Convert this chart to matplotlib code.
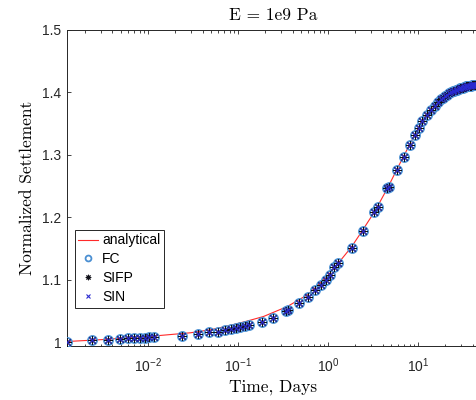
import matplotlib
matplotlib.use("Agg")
import matplotlib.pyplot as plt
from matplotlib.ticker import LogLocator, FixedLocator, NullFormatter

# analytical solution
ana_t = [0.00124, 0.003, 0.0119, 0.0294, 0.05, 0.082, 0.12, 0.19, 0.35, 0.59,
         0.98, 1.3, 1.8, 2.4, 3.3, 4.6, 5.8, 7.0, 8.0, 9.2,
         10.8, 12.5, 15, 18, 22, 27, 33, 40, 48]
ana_s = [1.001, 1.004, 1.010, 1.015, 1.020, 1.027, 1.033, 1.041, 1.057, 1.076,
         1.106, 1.127, 1.152, 1.179, 1.210, 1.248, 1.277, 1.300, 1.316, 1.333,
         1.352, 1.366, 1.380, 1.391, 1.399, 1.405, 1.409, 1.411, 1.412]

# numerical results (FC, SIFP and SIN sit on top of each other)
num_t = [0.00124, 0.00239, 0.0036, 0.0048, 0.0060, 0.0070, 0.0081, 0.0092, 0.0103, 0.0115,
         0.0238, 0.0355, 0.047, 0.0593, 0.0704, 0.082, 0.0933, 0.104, 0.1175, 0.131,
         0.182, 0.245, 0.338, 0.352, 0.474, 0.588, 0.71, 0.827, 0.94, 1.04,
         1.16, 1.29, 1.82, 2.41, 3.25, 3.6, 4.5, 4.74, 5.82, 6.92,
         8.06, 9.24, 10.2, 10.9, 12.5, 13.7, 15.2, 16.5, 18.0,
         19, 20, 21, 22, 23, 24, 25, 26, 27, 28, 29, 30, 31, 32, 33,
         34, 35, 36, 37, 38, 39, 40, 41, 42, 43, 44, 45, 46, 47, 48]
num_s = [1.001, 1.003, 1.004, 1.005, 1.006, 1.006, 1.007, 1.007, 1.008, 1.008,
         1.010, 1.013, 1.0155, 1.017, 1.019, 1.021, 1.022, 1.024, 1.026, 1.027,
         1.032, 1.039, 1.050, 1.052, 1.063, 1.073, 1.083, 1.092, 1.100, 1.108,
         1.120, 1.126, 1.151, 1.178, 1.208, 1.217, 1.246, 1.249, 1.276, 1.297,
         1.315, 1.331, 1.343, 1.353, 1.364, 1.371, 1.378, 1.384, 1.389,
         1.391, 1.394, 1.396, 1.398, 1.400, 1.401, 1.402, 1.403, 1.404, 1.405, 1.406, 1.407, 1.407, 1.408, 1.408,
         1.409, 1.409, 1.410, 1.410, 1.410, 1.411, 1.411, 1.411, 1.411, 1.412, 1.412, 1.412, 1.412, 1.412, 1.412]
fc_s = num_s
sifp_s = num_s
sin_s = num_s

y_ticks = [1, 1.1, 1.2, 1.3, 1.4, 1.5]
y_labels = ["1", "1.1", "1.2", "1.3", "1.4", "1.5"]

INK = "#262626"
plt.rcParams.update({
    "font.family": "Liberation Sans",
    "mathtext.fontset": "custom",
    "mathtext.rm": "Liberation Sans",
    "mathtext.it": "Liberation Sans:italic",
    "mathtext.bf": "Liberation Sans:bold",
    "axes.edgecolor": INK,
    "xtick.color": INK,
    "ytick.color": INK,
})

fig = plt.figure(figsize=(4.76, 4.0), dpi=100)
ax = fig.add_axes([0.1401, 0.136, 0.8677, 0.790])

ax.plot(ana_t, ana_s, color="#ff2a2a", lw=0.8, label="analytical", zorder=2)
ax.plot(num_t, fc_s, ls="none", marker="o", ms=6.5, mfc="none", mec="#4a8fd2",
        mew=1.3, label="FC", zorder=3)
ax.plot(num_t, sifp_s, ls="none", marker=(8, 2, 0), ms=6, color="#101018",
        mew=0.7, label="SIFP", zorder=4)
ax.plot(num_t, sin_s, ls="none", marker="x", ms=5, color="#2a2ad0",
        mew=0.8, label="SIN", zorder=5)

ax.set_xscale("log")
ax.set_xlim(0.00124, 48)
ax.set_ylim(0.9945, 1.5)
ax.xaxis.set_major_locator(LogLocator(base=10, numticks=10))
ax.xaxis.set_minor_locator(LogLocator(base=10, subs=range(2, 10), numticks=20))
ax.xaxis.set_minor_formatter(NullFormatter())
ax.yaxis.set_major_locator(FixedLocator(y_ticks))
ax.set_yticklabels(y_labels)

ax.tick_params(which="both", direction="in", top=True, right=True,
               labelsize=10, width=0.6, pad=4)
ax.tick_params(axis="x", which="major", pad=8)
ax.tick_params(which="major", length=3.2)
ax.tick_params(which="minor", length=1.8)
for sp in ax.spines.values():
    sp.set_linewidth(0.7)

ax.set_title("E = 1e9 Pa", fontfamily="cmr10", fontsize=12.5, color="black", pad=7)
ax.set_xlabel("Time, Days", fontfamily="cmr10", fontsize=12.5, labelpad=3)
ax.set_ylabel("Normalized Settlement", fontfamily="cmr10", fontsize=12.5, labelpad=5)

leg = ax.legend(loc="upper left", bbox_to_anchor=(75 / 476, 1 - 230 / 400),
                bbox_transform=fig.transFigure, fontsize=10, fancybox=False,
                framealpha=1, edgecolor=INK, borderaxespad=0, borderpad=0.25,
                handlelength=1.4, handletextpad=0.3, labelspacing=0.35,
                markerscale=0.65)
leg.get_frame().set_linewidth(0.7)

fig.savefig("out.png", dpi=100)
